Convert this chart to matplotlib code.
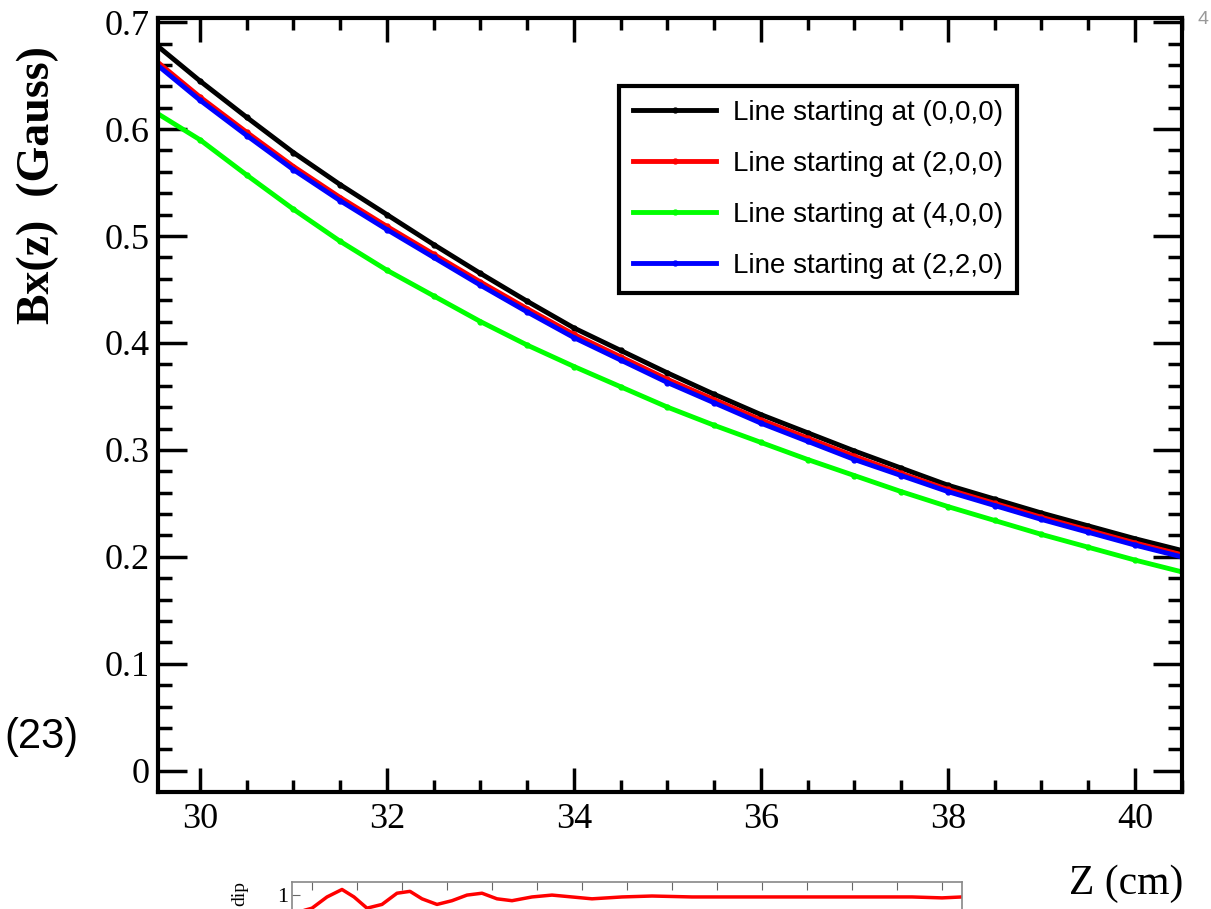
import matplotlib
matplotlib.use("Agg")
import matplotlib.pyplot as plt
from matplotlib.ticker import MultipleLocator

# Z positions (cm) and Bx values (Gauss) for each starting point
z = [29.5, 30.0, 30.5, 31.0, 31.5, 32.0, 32.5, 33.0, 33.5, 34.0, 34.5, 35.0,
     35.5, 36.0, 36.5, 37.0, 37.5, 38.0, 38.5, 39.0, 39.5, 40.0, 40.5]
bx_000 = [0.681, 0.645, 0.611, 0.578, 0.548, 0.520, 0.492, 0.465, 0.439, 0.414, 0.393, 0.372,
          0.352, 0.333, 0.316, 0.299, 0.283, 0.267, 0.254, 0.241, 0.229, 0.217, 0.206]
bx_200 = [0.666, 0.630, 0.597, 0.565, 0.536, 0.509, 0.483, 0.457, 0.432, 0.408, 0.387, 0.366,
          0.347, 0.328, 0.311, 0.294, 0.278, 0.263, 0.250, 0.237, 0.225, 0.213, 0.202]
bx_400 = [0.617, 0.590, 0.557, 0.525, 0.495, 0.468, 0.444, 0.420, 0.398, 0.378, 0.359, 0.340,
          0.323, 0.307, 0.291, 0.276, 0.261, 0.247, 0.234, 0.221, 0.209, 0.197, 0.186]
bx_220 = [0.663, 0.627, 0.594, 0.562, 0.533, 0.506, 0.480, 0.454, 0.429, 0.405, 0.384, 0.363,
          0.344, 0.325, 0.308, 0.291, 0.276, 0.261, 0.248, 0.235, 0.223, 0.211, 0.200]

labels = ["Line starting at (0,0,0)", "Line starting at (2,0,0)",
          "Line starting at (4,0,0)", "Line starting at (2,2,0)"]
colors = ["#000000", "#ff0000", "#00ff00", "#0000ff"]

x_ticks = [30, 32, 34, 36, 38, 40]
x_tick_labels = ["30", "32", "34", "36", "38", "40"]
y_ticks = [0, 0.1, 0.2, 0.3, 0.4, 0.5, 0.6, 0.7]
y_tick_labels = ["0", "0.1", "0.2", "0.3", "0.4", "0.5", "0.6", "0.7"]

# piece of the next figure peeking in at the bottom
z2 = [0, 20, 35, 50, 62, 75, 90, 105, 118, 130, 145, 160, 175, 190, 205, 220, 240,
      260, 280, 300, 330, 360, 400, 450, 500, 560, 620, 650, 670]
dip2 = [0.90, 0.93, 0.99, 1.03, 0.99, 0.93, 0.95, 1.01, 1.02, 0.98, 0.95, 0.97, 1.00,
        1.01, 0.98, 0.97, 0.99, 1.00, 0.99, 0.98, 0.99, 0.995, 0.99, 0.99, 0.99, 0.99,
        0.99, 0.985, 0.99]

W, H = 1211, 909
fig = plt.figure(figsize=(W / 100, H / 100), dpi=100)
ax = fig.add_axes([158.3 / W, 1 - 791.7 / H, (1181.7 - 158.3) / W, (791.7 - 18.3) / H])

series = [bx_000, bx_200, bx_400, bx_220]
for vals, lab, col in zip(series, labels, colors):
    ax.plot(z, vals, color=col, lw=3.5, marker="o", ms=3.5, label=lab)

ax.set_xlim(29.554, 40.50)
ax.set_ylim(-0.0196, 0.7036)

serif = "Liberation Serif"
ax.set_xticks(x_ticks)
ax.set_xticklabels(x_tick_labels, family=serif, fontsize=26)
ax.set_yticks(y_ticks)
ax.set_yticklabels(y_tick_labels, family=serif, fontsize=26)
ax.xaxis.set_minor_locator(MultipleLocator(0.5))
ax.yaxis.set_minor_locator(MultipleLocator(0.02))
ax.tick_params(which="both", direction="in", top=True, right=True, width=2.5, colors="black")
ax.tick_params(axis="x", which="major", length=17, pad=8)
ax.tick_params(axis="x", which="minor", length=8.5)
ax.tick_params(axis="y", which="major", length=21, pad=6)
ax.tick_params(axis="y", which="minor", length=10)
for s in ax.spines.values():
    s.set_linewidth(3)

leg = ax.legend(loc="upper left", bbox_to_anchor=(619 / W, 1 - 86 / H),
                bbox_transform=fig.transFigure, borderaxespad=0,
                prop={"family": "Liberation Sans", "size": 20},
                handlelength=3.0, handletextpad=0.6, labelspacing=0.9,
                borderpad=0.5, fancybox=False, framealpha=1, numpoints=1)
leg.get_frame().set_edgecolor("black")
leg.get_frame().set_linewidth(3)

fig.text(38 / W, 1 - 185 / H, "Bx(z)  (Gauss)", rotation=90, family=serif,
         fontweight="bold", fontsize=33, ha="center", va="center")
fig.text(1183 / W, 1 - 884 / H, "Z (cm)", family=serif, fontsize=30, ha="right", va="center")
fig.text(41 / W, 1 - 737 / H, "(23)", family="Liberation Sans", fontsize=30,
         ha="center", va="center")
fig.text(1198 / W, 1 - 20 / H, "4", family="Liberation Sans", fontsize=14,
         color="#999999", ha="left", va="center")

# bottom fragment axes (mostly off the page)
ax2 = fig.add_axes([292 / W, 1 - 1082 / H, (962 - 292) / W, 200 / H])
ax2.plot(z2, dip2, color="red", lw=2.5)
ax2.set_xlim(0, 670)
ax2.set_ylim(0, 1.07)
ax2.set_yticks([1])
ax2.set_yticklabels(["1"], family=serif, fontsize=16)
ax2.set_xticks(range(20, 670, 45))
ax2.set_xticklabels([])
ax2.tick_params(direction="in", top=True, bottom=False, length=6, colors="#666666",
                labelcolor="black", pad=3)
for s in ax2.spines.values():
    s.set_color("#888888")
    s.set_linewidth(1.2)
fig.text(240 / W, 1 - 893 / H, "dip", rotation=90, family=serif, fontsize=14,
         ha="center", va="center")

fig.savefig("out.png", dpi=100)
